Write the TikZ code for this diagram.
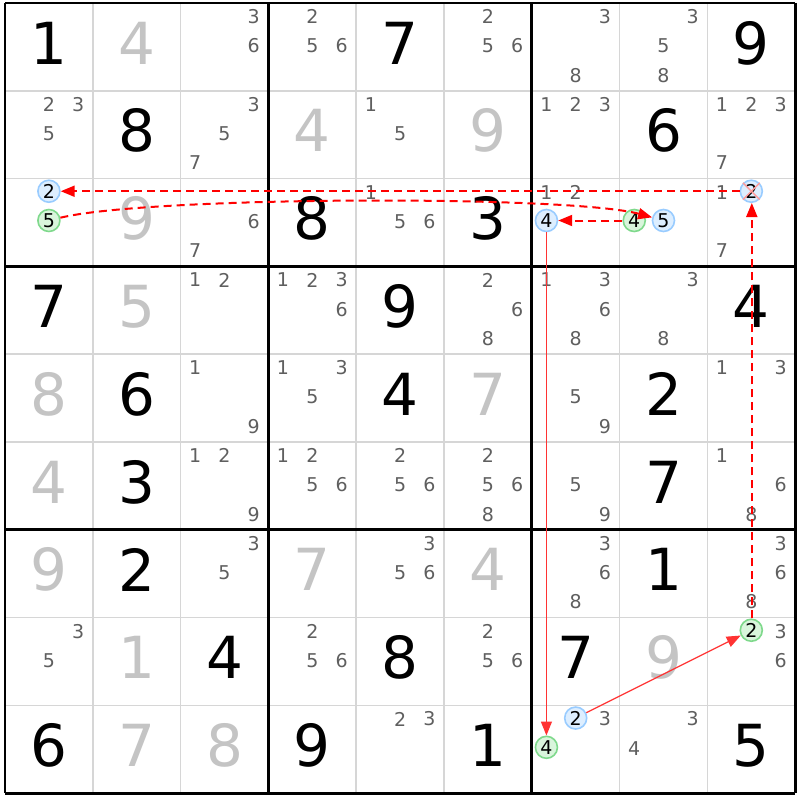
\documentclass[tikz,border=0pt]{standalone}
\usepackage{fontspec}
\setmainfont{DejaVu Sans}
\usetikzlibrary{arrows.meta}
\definecolor{candgray}{HTML}{5F5F5F}
\definecolor{solvedgray}{HTML}{C4C4C4}
\definecolor{thingrid}{HTML}{D6D6D6}
\definecolor{bluering}{HTML}{99CCFF}
\definecolor{bluefill}{HTML}{DDEEFF}
\definecolor{greenring}{HTML}{7FD98C}
\definecolor{greenfill}{HTML}{D9F5DC}
\definecolor{crossred}{HTML}{FF9A9A}
\definecolor{linkred}{HTML}{FF0000}
\tikzset{
  givenval/.style={
    font=\fontsize{58}{58}\selectfont,
    text=black,
    inner sep=0pt
  },
  solvedval/.style={
    givenval,
    text=solvedgray
  },
  candval/.style={
    font=\fontsize{19}{19}\selectfont,
    text=candgray,
    inner sep=0pt
  },
  oncand/.style={
    shape=circle,
    font=\fontsize{19}{19}\selectfont,
    text=black,
    draw=bluering,
    fill=bluefill,
    line width=1.6pt,
    minimum size=22pt,
    inner sep=0pt
  },
  offcand/.style={
    oncand,
    draw=greenring,
    fill=greenfill
  },
  strong link/.style={
    color=linkred!80,
    line width=1.3pt,
    -{Triangle[length=14pt,width=11pt]}
  },
  weak link/.style={
    color=linkred,
    line width=2pt,
    dash pattern=on 8pt off 5pt,
    -{Triangle[length=14pt,width=11pt]}
  }
}
% cell size 87.8, grid starts at (5,3)
\newcommand{\givencell}[3]{%
  \node[givenval] (r#1c#2) at ({5+(#2-0.5)*87.8},{3+(#1-0.5)*87.8-4}) {#3};}
\newcommand{\solvedcell}[3]{%
  \node[solvedval] (r#1c#2) at ({5+(#2-0.5)*87.8},{3+(#1-0.5)*87.8-4}) {#3};}
\newcommand{\candcell}[3]{%
  \foreach \d in {#3} {
    \node[candval] at ({5+(#2-1)*87.8+(mod(\d-1,3)*2+1)*87.8/6},
                       {3+(#1-1)*87.8+(floor((\d-1)/3)*2+1)*87.8/6-1}) {\d};
  }}
\newcommand{\ringcell}[4]{%
  \node[#4] (r#1c#2d#3) at ({5+(#2-1)*87.8+(mod(#3-1,3)*2+1)*87.8/6},
                            {3+(#1-1)*87.8+(floor((#3-1)/3)*2+1)*87.8/6-2}) {#3};}
\begin{document}
\begin{tikzpicture}[x=1pt,y=-1pt]
\useasboundingbox (0,0) rectangle (800,800);
\fill[white] (0,0) rectangle (800,800);

% grid
\foreach \i in {1,2,4,5,7,8} {
  \draw[thingrid, line width=1.5pt] ({5+\i*87.8},3) -- ({5+\i*87.8},793);
  \draw[thingrid, line width=1.5pt] (5,{3+\i*87.8}) -- (795,{3+\i*87.8});
}
\foreach \i in {0,3,6,9} {
  \draw[black, line width=2.8pt] ({5+\i*87.8},3) -- ({5+\i*87.8},793);
  \draw[black, line width=2.8pt] (5,{3+\i*87.8}) -- (795,{3+\i*87.8});
}

% row 1
\givencell{1}{1}{1}
\solvedcell{1}{2}{4}
\candcell{1}{3}{3,6}
\candcell{1}{4}{2,5,6}
\givencell{1}{5}{7}
\candcell{1}{6}{2,5,6}
\candcell{1}{7}{3,8}
\candcell{1}{8}{3,5,8}
\givencell{1}{9}{9}
% row 2
\candcell{2}{1}{2,3,5}
\givencell{2}{2}{8}
\candcell{2}{3}{3,5,7}
\solvedcell{2}{4}{4}
\candcell{2}{5}{1,5}
\solvedcell{2}{6}{9}
\candcell{2}{7}{1,2,3}
\givencell{2}{8}{6}
\candcell{2}{9}{1,2,3,7}
% row 3
\ringcell{3}{1}{2}{oncand}
\ringcell{3}{1}{5}{offcand}
\solvedcell{3}{2}{9}
\candcell{3}{3}{6,7}
\givencell{3}{4}{8}
\candcell{3}{5}{1,5,6}
\givencell{3}{6}{3}
\candcell{3}{7}{1,2}
\ringcell{3}{7}{4}{oncand}
\ringcell{3}{8}{4}{offcand}
\ringcell{3}{8}{5}{oncand}
\candcell{3}{9}{1,7}
\ringcell{3}{9}{2}{oncand}
\draw[crossred, line width=1.4pt] (r3c9d2.north west) -- (r3c9d2.south east)
  (r3c9d2.north east) -- (r3c9d2.south west);
% row 4
\givencell{4}{1}{7}
\solvedcell{4}{2}{5}
\candcell{4}{3}{1,2}
\candcell{4}{4}{1,2,3,6}
\givencell{4}{5}{9}
\candcell{4}{6}{2,6,8}
\candcell{4}{7}{1,3,6,8}
\candcell{4}{8}{3,8}
\givencell{4}{9}{4}
% row 5
\solvedcell{5}{1}{8}
\givencell{5}{2}{6}
\candcell{5}{3}{1,9}
\candcell{5}{4}{1,3,5}
\givencell{5}{5}{4}
\solvedcell{5}{6}{7}
\candcell{5}{7}{5,9}
\givencell{5}{8}{2}
\candcell{5}{9}{1,3}
% row 6
\solvedcell{6}{1}{4}
\givencell{6}{2}{3}
\candcell{6}{3}{1,2,9}
\candcell{6}{4}{1,2,5,6}
\candcell{6}{5}{2,5,6}
\candcell{6}{6}{2,5,6,8}
\candcell{6}{7}{5,9}
\givencell{6}{8}{7}
\candcell{6}{9}{1,6,8}
% row 7
\solvedcell{7}{1}{9}
\givencell{7}{2}{2}
\candcell{7}{3}{3,5}
\solvedcell{7}{4}{7}
\candcell{7}{5}{3,5,6}
\solvedcell{7}{6}{4}
\candcell{7}{7}{3,6,8}
\givencell{7}{8}{1}
\candcell{7}{9}{3,6,8}
% row 8
\candcell{8}{1}{3,5}
\solvedcell{8}{2}{1}
\givencell{8}{3}{4}
\candcell{8}{4}{2,5,6}
\givencell{8}{5}{8}
\candcell{8}{6}{2,5,6}
\givencell{8}{7}{7}
\solvedcell{8}{8}{9}
\ringcell{8}{9}{2}{offcand}
\candcell{8}{9}{3,6}
% row 9
\givencell{9}{1}{6}
\solvedcell{9}{2}{7}
\solvedcell{9}{3}{8}
\givencell{9}{4}{9}
\candcell{9}{5}{2,3}
\givencell{9}{6}{1}
\ringcell{9}{7}{2}{oncand}
\candcell{9}{7}{3}
\ringcell{9}{7}{4}{offcand}
\candcell{9}{8}{3,4}
\givencell{9}{9}{5}

% chain
\draw[weak link] (r3c9d2) -- (r3c1d2);
\draw[weak link] (r3c1d5) .. controls (150,196) and (570,195) .. (r3c8d5);
\draw[weak link] (r3c8d4) -- (r3c7d4);
\draw[strong link] (r3c7d4) -- (r9c7d4);
\draw[strong link] (r9c7d2) -- (r8c9d2);
\draw[weak link] ([xshift=0.5pt]r8c9d2.north) -- ([xshift=0.5pt]r3c9d2.south);

\end{tikzpicture}
\end{document}
